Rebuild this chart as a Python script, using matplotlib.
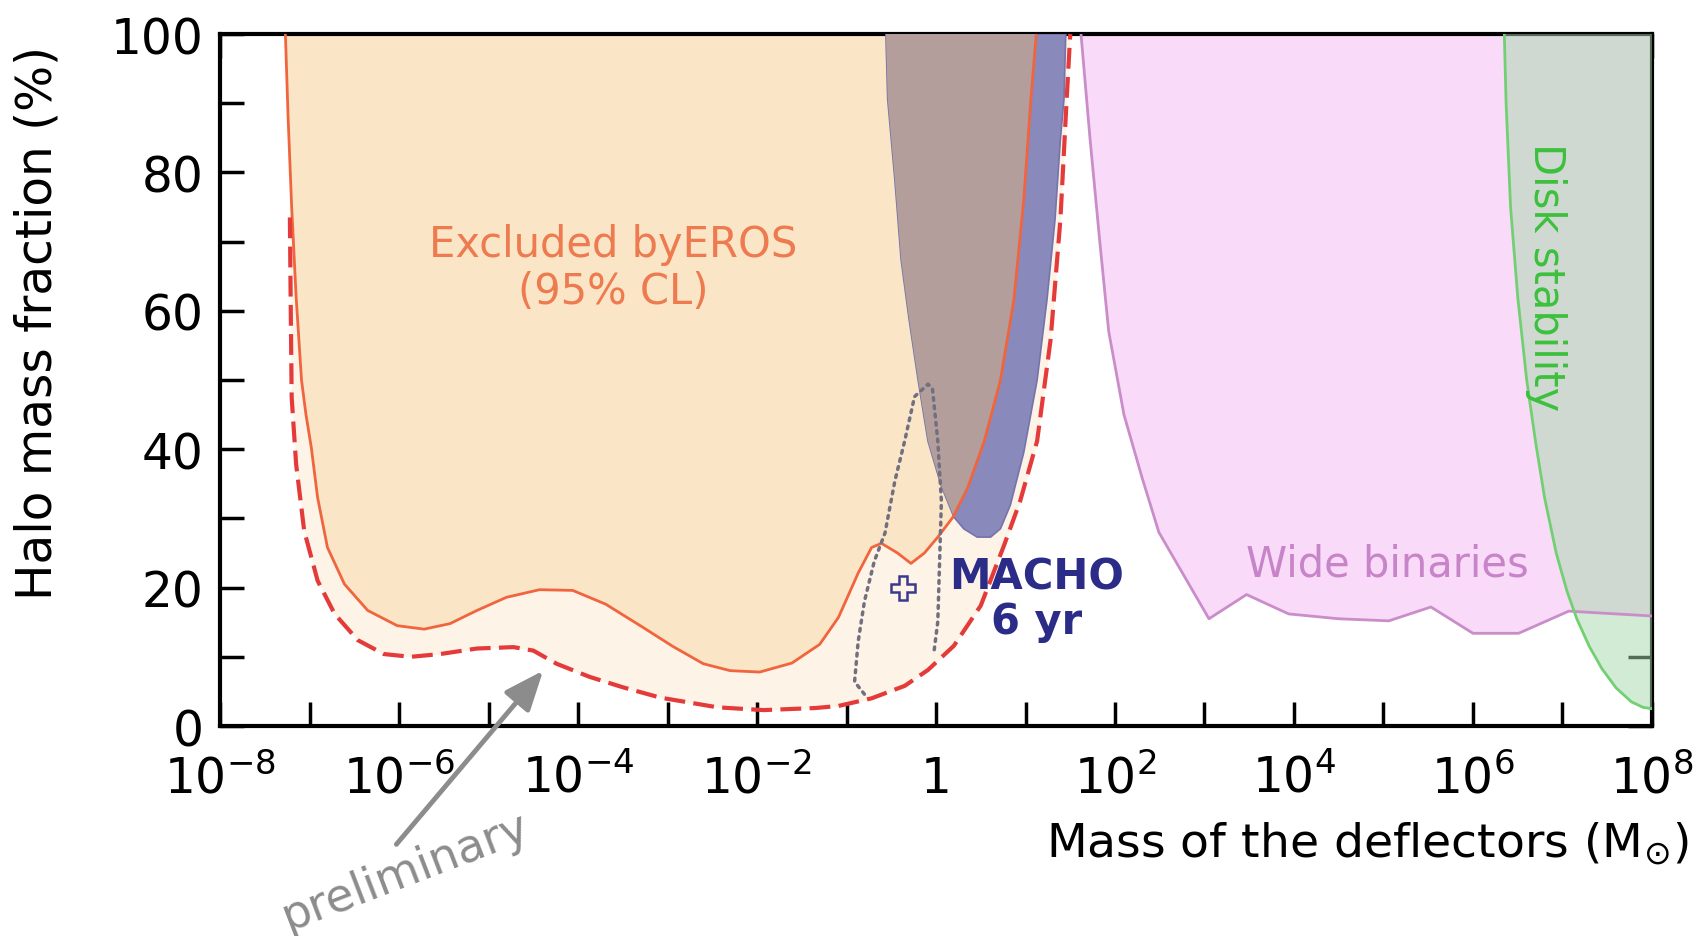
import numpy as np
import matplotlib
matplotlib.use("Agg")
import matplotlib.pyplot as plt

# all masses are log10(M / Msun), fractions in %
# EROS 95% CL limit (solid line)
eros_logm = [-7.27, -7.24, -7.2, -7.15, -7.09, -7.04, -6.98, -6.91, -6.8, -6.61,
             -6.35, -6.02, -5.72, -5.43, -5.13, -4.8, -4.43, -4.06, -3.69, -3.28,
             -2.94, -2.6, -2.3, -1.97, -1.61, -1.3, -1.09, -0.87, -0.72, -0.61,
             -0.43, -0.28, -0.13, 0.02, 0.19, 0.35, 0.54, 0.72, 0.87, 0.98,
             1.06, 1.12]
eros_frac = [100, 88, 75, 62, 50, 45, 40.2, 33, 25.8, 20.5,
             16.7, 14.5, 14.0, 14.8, 16.7, 18.6, 19.7, 19.6, 17.6, 14.3,
             11.5, 9.0, 8.0, 7.8, 9.1, 11.8, 15.7, 22.1, 25.8, 26.4,
             25.0, 23.5, 25.0, 27.3, 30.2, 34.3, 41.2, 50, 61.6, 76,
             90.6, 100]

# preliminary EROS limit (dashed line)
prelim_logm = [-7.22, -7.21, -7.2, -7.15, -7.06, -6.91, -6.72, -6.46, -6.17, -5.87,
               -5.54, -5.13, -4.72, -4.5, -4.24, -3.87, -3.5, -3.08, -2.44, -1.93,
               -1.35, -1.09, -0.72, -0.35, -0.09, 0.2, 0.5, 0.76, 0.94, 1.13,
               1.28, 1.39, 1.46, 1.5]
prelim_frac = [73.5, 60, 47.5, 37.8, 28.2, 21, 16.2, 12.4, 10.4, 10.0,
               10.4, 11.2, 11.4, 10.9, 9.0, 7.1, 5.6, 4.1, 2.7, 2.3,
               2.6, 2.9, 4.0, 5.8, 8.1, 11.6, 17.4, 26.1, 32.5, 41.2,
               55.8, 73.2, 90.6, 100]

# MACHO 6 yr allowed region
macho_logm = [-0.56, -0.54, -0.46, -0.39, -0.30, -0.20, -0.09, 0.056, 0.2, 0.31,
              0.46, 0.61, 0.72, 0.83, 0.98, 1.13, 1.24, 1.33, 1.39, 1.43, 1.45]
macho_frac = [100, 90.6, 79, 67.4, 58.7, 50, 41.2, 34.8, 30.2, 28.5,
              27.3, 27.3, 28.5, 31.9, 39.5, 50, 61.6, 73.2, 84.8, 90.6, 100]

# MACHO contour (dotted) and best value
contour_logm = [-0.8, -0.91, -0.87, -0.8, -0.69, -0.57, -0.46, -0.35, -0.24, -0.09,
                -0.04, 0.02, 0.06, 0.04, 0.02, -0.02]
contour_frac = [4.6, 6.4, 12.2, 18, 23.8, 27.9, 35.4, 41.2, 47.6, 49.4,
                48.8, 41.2, 32.5, 23.8, 15.1, 11]
best_logm = -0.37
best_frac = 20.0

# wide binaries limit
wb_logm = [1.62, 1.72, 1.83, 1.93, 2.1, 2.3, 2.49, 3.05, 3.47, 3.94,
           4.5, 5.06, 5.53, 6.0, 6.51, 7.07, 8.0]
wb_frac = [100, 85, 70, 57, 45, 36, 28, 15.5, 19, 16.2,
           15.5, 15.2, 17.2, 13.4, 13.4, 16.6, 15.9]

# disk stability limit
disk_logm = [6.35, 6.37, 6.42, 6.5, 6.6, 6.7, 6.8, 6.93, 7.05, 7.16,
             7.3, 7.44, 7.6, 7.77, 7.9, 8.0]
disk_frac = [100, 90, 75, 62, 50, 41, 33, 25, 19.5, 15.5,
             11.5, 8.3, 5.5, 3.5, 2.7, 2.5]

x_decades = list(range(-8, 9))


def m(logm):
    return 10 ** np.asarray(logm, dtype=float)


fig = plt.figure(figsize=(17.02, 9.37), dpi=100)
ax = fig.add_axes([0.1293, 0.2241, 0.8413, 0.7385])
ax.set_xscale("log")

# shaded regions
ax.fill_between(m(prelim_logm), prelim_frac, 100, color="#fdf3e6", lw=0, zorder=1)
eros_patch = ax.fill(m(eros_logm), eros_frac, color="#fae6c6", lw=0, zorder=2)[0]
ax.fill_between(m(wb_logm), wb_frac, 100, color="#f9dbf9", lw=0, zorder=2)

ax.fill(m(macho_logm), macho_frac, facecolor="#8a89bb", edgecolor="#7474aa",
        lw=1.2, zorder=3)
# the part of the MACHO region that lies inside the EROS exclusion looks brown
brown = ax.fill(m(macho_logm), macho_frac, color="#b49e9c", lw=0, zorder=3.5)[0]
brown.set_clip_path(eros_patch)

ax.fill(m(disk_logm + [8.0]), disk_frac + [100], color="#a6d9ab", alpha=0.5,
        lw=0, zorder=4)

# lines
ax.plot(m(wb_logm), wb_frac, color="#c98dc9", lw=2, zorder=5)
ax.plot(m(disk_logm), disk_frac, color="#72d072", lw=2, zorder=5)
ax.plot(m(eros_logm), eros_frac, color="#f0643e", lw=2, zorder=6)
ax.plot(m(contour_logm), contour_frac, color="#707080", lw=2.5, ls=(0, (0.8, 1.6)),
        dash_capstyle="round", zorder=6)
ax.plot(m(prelim_logm), prelim_frac, color="#e53a3a", lw=3, ls=(0, (5, 2)), zorder=7)
ax.plot(m([best_logm]), [best_frac], marker="P", ms=17, mfc="none", mec="#3a3a8c",
        mew=1.8, zorder=8)

# labels inside the plot
ax.text(m(-3.61), 66.3, "Excluded byEROS\n(95% CL)", color="#ee7a50", fontsize=30,
        ha="center", va="center", linespacing=1.15, zorder=9)
ax.text(m(1.12), 18.4, "MACHO\n6 yr", color="#2b2b88", fontsize=30, fontweight="bold",
        ha="center", va="center", linespacing=1.05, zorder=9)
ax.text(m(5.04), 23.5, "Wide binaries", color="#c884c8", fontsize=30,
        ha="center", va="center", zorder=9)
ax.text(m(6.82), 65, "Disk stability", color="#3cc03c", fontsize=30, rotation=-90,
        ha="center", va="center", zorder=9)

# preliminary arrow and text below the axis
ax.annotate("", xy=(m(-4.39), 8.0), xytext=(m(-6.03), -17.1),
            xycoords="data", textcoords="data", annotation_clip=False,
            arrowprops=dict(arrowstyle="-|>,head_length=1.1,head_width=0.45",
                            color="#8c8c8c", lw=3.5, mutation_scale=22,
                            shrinkA=0, shrinkB=0), zorder=9)
ax.text(m(-5.92), -21.0, "preliminary", color="#8c8c8c", fontsize=33, rotation=21,
        rotation_mode="anchor", ha="center", va="center", clip_on=False)

# axes
ax.set_xlim(1e-8, 1e8)
ax.set_ylim(0, 100)
xlabels = []
for k in x_decades:
    if k % 2:
        xlabels.append("")
    elif k == 0:
        xlabels.append("1")
    else:
        xlabels.append("$10^{%d}$" % k)
ax.set_xticks(m(x_decades))
ax.set_xticklabels(xlabels)
ax.xaxis.set_minor_locator(matplotlib.ticker.NullLocator())
ax.set_yticks(range(0, 101, 10))
ax.set_yticklabels([str(v) if v % 20 == 0 else "" for v in range(0, 101, 10)])

ax.tick_params(direction="in", length=17, width=2.5, top=True, right=True,
               labelsize=35, color="black")
ax.tick_params(axis="x", pad=20)
ax.tick_params(axis="y", pad=12)
for s in ax.spines.values():
    s.set_linewidth(3)

fig.text(0.022, 0.655, "Halo mass fraction (%)", rotation=90, fontsize=35,
         ha="center", va="center")
fig.text(0.992, 0.10, "Mass of the deflectors ($\\mathregular{M_{\\odot}}$)",
         fontsize=34, ha="right", va="center")

fig.savefig("out.png", dpi=100)
